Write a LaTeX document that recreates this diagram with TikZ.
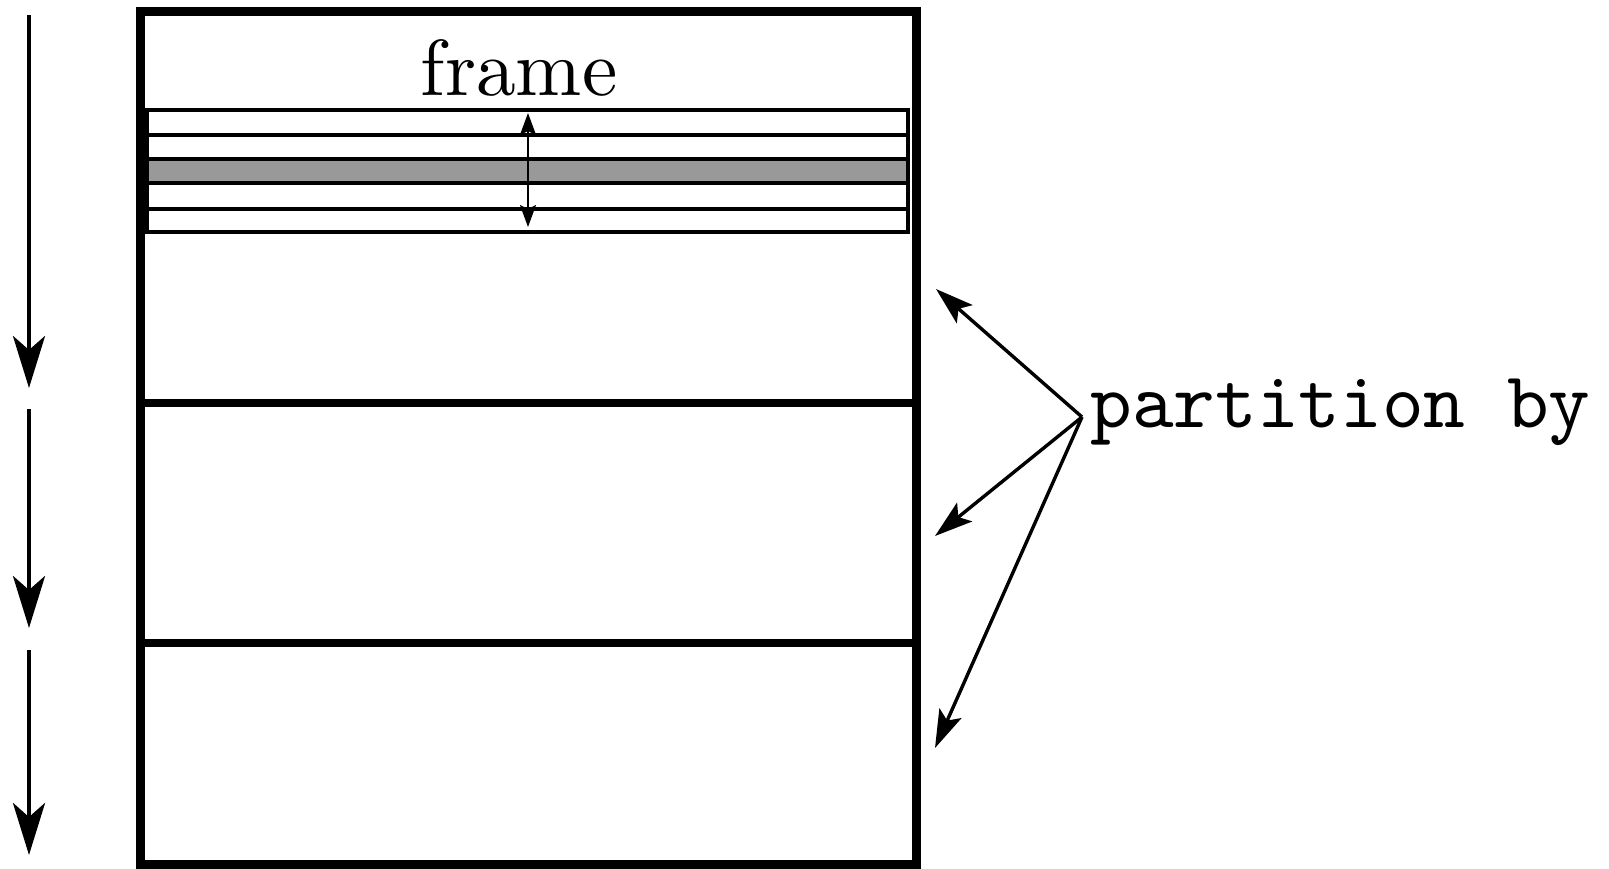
\documentclass[tikz,border=0pt]{standalone}
\usepackage{fontspec}
\newfontfamily\tenrm{lmroman10-regular}[Extension=.otf]
\newfontfamily\tentt{lmmono10-regular}[Extension=.otf]
\usetikzlibrary{arrows.meta}
\begin{document}
\begin{tikzpicture}[x=0.5pt,y=-0.5pt,
  outer/.style={line width=4.5pt},
  divider/.style={line width=3.8pt},
  rowbox/.style={line width=1.6pt},
  flow/.style={line width=2.4pt,-{Stealth[length=26pt,width=16pt,inset=7pt]}},
  pointer/.style={line width=1.7pt,-{Stealth[length=19pt,width=12pt,inset=4pt]}},
  span/.style={line width=1.1pt,{Stealth[length=11pt,width=8pt,inset=2pt]}-{Stealth[length=11pt,width=8pt,inset=2pt]}},
  lbl/.style={inner sep=0pt,font=\fontsize{39.7}{48}\selectfont\tenrm}]
\useasboundingbox (0,0) rectangle (1609,868);
% outer box
\draw[outer] (140,11) rectangle (916,864);
\draw[divider] (140,403) -- (916,403);
\draw[divider] (140,643) -- (916,643);
% rows of the frame
\draw[rowbox] (147,110) rectangle (908,135);
\draw[rowbox] (147,135) rectangle (908,159);
\draw[rowbox,fill=black!40] (147,159) rectangle (908,183);
\draw[rowbox] (147,183) rectangle (908,209);
\draw[rowbox] (147,209) rectangle (908,232);
% labels
\node[lbl,anchor=base] (frame) at (519,95) {frame};
\node[lbl,anchor=base west,font=\fontsize{39.7}{48}\selectfont\tentt] (pb) at (1090,427) {partition by};
% frame extent arrow
\coordinate (ftop) at (528,113);
\coordinate (fbot) at (528,227);
\draw[span] (ftop) -- (fbot);
% left flow arrows
\coordinate (a1s) at (29,15);
\coordinate (a1e) at (29,388);
\coordinate (a2s) at (29,409);
\coordinate (a2e) at (29,628);
\coordinate (a3s) at (29,650);
\coordinate (a3e) at (29,855);
\draw[flow] (a1s) -- (a1e);
\draw[flow] (a2s) -- (a2e);
\draw[flow] (a3s) -- (a3e);
% partition pointers
\coordinate (src) at (1082,417);
\coordinate (t1) at (936,289);
\coordinate (t2) at (935,536);
\coordinate (t3) at (935,748);
\draw[pointer] (src) -- (t1);
\draw[pointer] (src) -- (t2);
\draw[pointer] (src) -- (t3);
\end{tikzpicture}
\end{document}
